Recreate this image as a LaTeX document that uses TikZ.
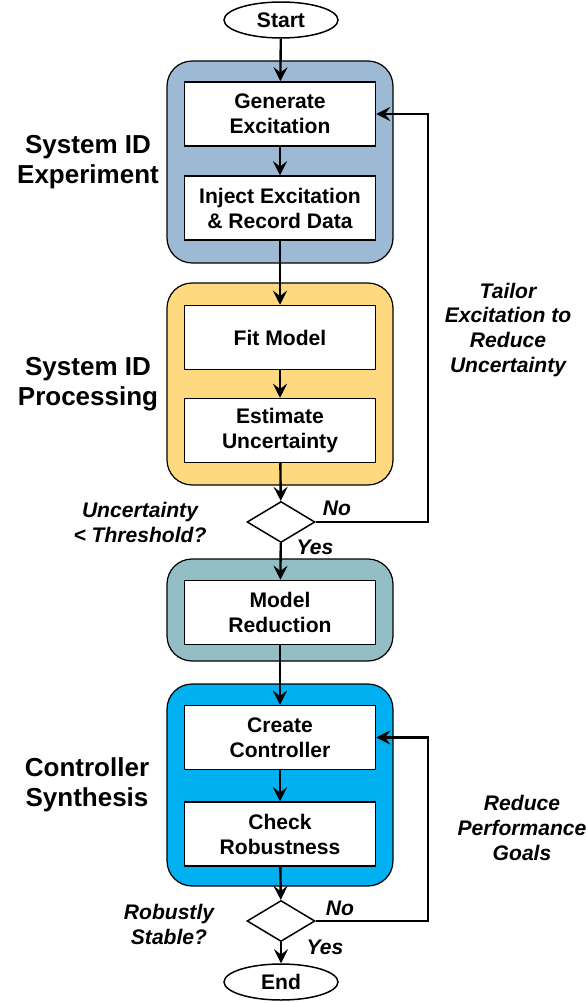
\documentclass[tikz,border=0pt]{standalone}
\usepackage{fontspec}
\setmainfont{Liberation Sans}
\usetikzlibrary{shapes.geometric,arrows.meta}
\definecolor{idblue}{rgb}{0.616,0.725,0.827}
\definecolor{idgold}{rgb}{1.0,0.851,0.502}
\definecolor{redteal}{rgb}{0.576,0.749,0.769}
\definecolor{synthcyan}{rgb}{0.0,0.690,0.941}
\newcommand{\boxfont}{\fontsize{12}{14.2}\selectfont\bfseries}
\newcommand{\stagefont}{\fontsize{14.8}{17}\selectfont\bfseries}
\newcommand{\notefont}{\fontsize{12}{14.2}\selectfont\bfseries\itshape}
\tikzset{
    stage/.style={draw=black, line width=0.7pt, rounded corners=0.5cm, minimum width=4.52cm, inner sep=0pt},
    stepbox/.style={draw=black, fill=white, line width=0.85pt, minimum width=3.82cm, minimum height=1.28cm, inner sep=0pt, align=center, font=\boxfont},
    decision/.style={draw=black, fill=white, diamond, line width=0.85pt, minimum width=1.36cm, minimum height=0.82cm, inner sep=0pt},
    terminal/.style={draw=black, fill=white, ellipse, line width=0.85pt, minimum width=2.28cm, minimum height=0.72cm, inner sep=0pt, font=\boxfont},
    flow/.style={line width=1.35pt, -{Stealth[length=8pt,width=8pt,inset=3pt]}},
    stagelabel/.style={align=center, font=\stagefont},
    note/.style={align=center, font=\notefont},
}

\begin{document}
\begin{tikzpicture}[x=0.02cm, y=-0.02cm]
\useasboundingbox (0,0) rectangle (585,1003);
%\draw[step=50,lightgray,very thin] (0,0) grid (585,1003);
% stages
\node[stage, fill=idblue, minimum height=4.04cm] (expstage) at (280,162) {};
\node[stage, fill=idgold, minimum height=4.04cm] (procstage) at (280,384) {};
\node[stage, fill=redteal, minimum height=2.04cm] (redstage) at (280,610) {};
\node[stage, fill=synthcyan, minimum height=4.04cm] (synstage) at (280,785) {};
\node[stagelabel] (explabel) at (88,162) {System ID\\Experiment};
\node[stagelabel] (proclabel) at (88,384) {System ID\\Processing};
\node[stagelabel] (synlabel) at (87,785) {Controller\\Synthesis};
% steps
\node[terminal] (start) at (281,20) {Start};
\node[stepbox] (gen) at (280,114) {Generate\\Excitation};
\node[stepbox] (inject) at (280,208) {Inject Excitation\\\& Record Data};
\node[stepbox] (fit) at (280,337.5) {Fit Model};
\node[stepbox] (estimate) at (280,430.5) {Estimate\\Uncertainty};
\node[decision] (check1) at (281,522) {};
\node[stepbox] (reduce) at (280,612.5) {Model\\Reduction};
\node[stepbox] (create) at (280,737.5) {Create\\Controller};
\node[stepbox] (robust) at (280,834) {Check\\Robustness};
\node[decision] (check2) at (281,921) {};
\node[terminal] (finish) at (281,982) {End};
% questions and loop notes
\node[note] (q1) at (140,522) {Uncertainty\\< Threshold?};
\node[note] (q2) at (169,924) {Robustly\\Stable?};
\node[note] (no1) at (337,508) {No};
\node[note] (yes1) at (315,547) {Yes};
\node[note] (no2) at (340,908) {No};
\node[note] (yes2) at (325,947) {Yes};
\node[note] (tailor) at (508,330) {Tailor\\Excitation to\\Reduce\\Uncertainty};
\node[note] (relax) at (522,828) {Reduce\\Performance\\Goals};
% connectors
\coordinate (loop1) at (428,522);
\coordinate (loop2) at (428,921);
\draw[flow] (start) -- (gen);
\draw[flow] (gen) -- (inject);
\draw[flow] (inject) -- (fit);
\draw[flow] (fit) -- (estimate);
\draw[flow] (estimate) -- (check1);
\draw[flow] (check1) -- (reduce);
\draw[flow] (reduce) -- (create);
\draw[flow] (create) -- (robust);
\draw[flow] (robust) -- (check2);
\draw[flow] (check2) -- (finish);
\draw[flow] (check1.east) -- (loop1) |- (gen.east);
\draw[flow] (check2.east) -- (loop2) |- (create.east);
\end{tikzpicture}
\end{document}
